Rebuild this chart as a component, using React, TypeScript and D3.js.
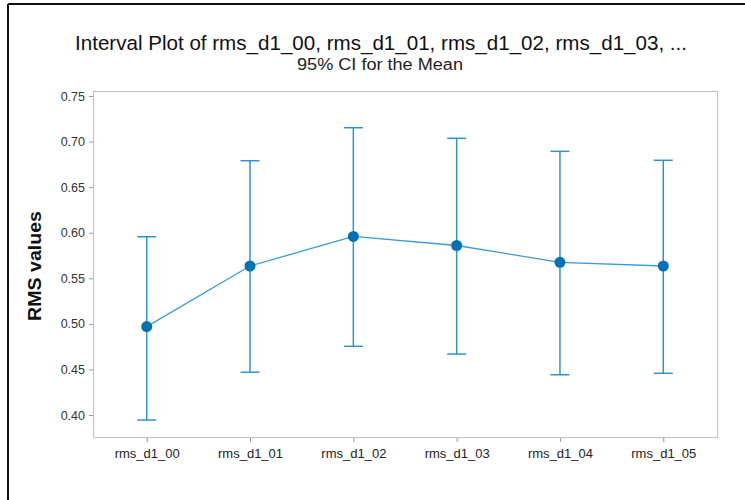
import React, { useEffect, useRef } from "react";
import * as d3 from "d3";

// Interval plot data: group names, means and 95% CI bounds
const categories = ["rms_d1_00", "rms_d1_01", "rms_d1_02", "rms_d1_03", "rms_d1_04", "rms_d1_05"];
const means = [0.497, 0.5635, 0.596, 0.586, 0.5675, 0.5635];
const ciUpper = [0.5956, 0.679, 0.7152, 0.7036, 0.6893, 0.6795];
const ciLower = [0.3945, 0.447, 0.4754, 0.4669, 0.4442, 0.4458];
const yTicks = [0.4, 0.45, 0.5, 0.55, 0.6, 0.65, 0.7, 0.75];

const titleText = "Interval Plot of rms_d1_00, rms_d1_01, rms_d1_02, rms_d1_03, ...";
const subtitleText = "95% CI for the Mean";
const yLabel = "RMS values";

const W = 745;
const H = 500;
const plot = { left: 93, top: 91, right: 717, bottom: 437 };
const FONT = "'Liberation Sans', Arial, sans-serif";

export default function App() {
  const ref = useRef<SVGSVGElement | null>(null);

  useEffect(() => {
    const svg = d3.select(ref.current);
    svg.selectAll("*").remove();

    const x = d3.scalePoint<string>().domain(categories).range([plot.left, plot.right]).padding(0.52);
    const y = d3.scaleLinear().domain([0.3759, 0.7555]).range([plot.bottom, plot.top]);

    svg.append("rect").attr("width", W).attr("height", H).attr("fill", "#fff");

    // outer frame (top and left edges)
    svg.append("line").attr("x1", 8).attr("x2", W).attr("y1", 4).attr("y2", 4)
      .attr("stroke", "#111").attr("stroke-width", 2);
    svg.append("line").attr("x1", 8).attr("x2", 8).attr("y1", 4).attr("y2", H)
      .attr("stroke", "#111").attr("stroke-width", 2);

    // titles
    svg.append("text").attr("x", 381).attr("y", 50).attr("text-anchor", "middle")
      .attr("font-family", FONT).attr("font-size", 20.5).attr("fill", "#111")
      .attr("textLength", 612).attr("lengthAdjust", "spacingAndGlyphs").text(titleText);
    svg.append("text").attr("x", 380).attr("y", 70).attr("text-anchor", "middle")
      .attr("font-family", FONT).attr("font-size", 16).attr("fill", "#222")
      .attr("textLength", 166).attr("lengthAdjust", "spacingAndGlyphs").text(subtitleText);

    // plot frame
    svg.append("rect")
      .attr("x", plot.left + 0.5).attr("y", plot.top + 0.5)
      .attr("width", plot.right - plot.left).attr("height", plot.bottom - plot.top)
      .attr("fill", "none").attr("stroke", "#c4c4c4").attr("stroke-width", 1.2);

    // y axis
    const yAxis = svg.append("g").attr("transform", `translate(${plot.left},0)`)
      .call(d3.axisLeft(y).tickValues(yTicks).tickFormat(d3.format(".2f")).tickSize(4).tickPadding(4));
    yAxis.select(".domain").remove();
    yAxis.selectAll("line").attr("stroke", "#999");
    yAxis.selectAll("text").attr("font-family", FONT).attr("font-size", 12.5).attr("fill", "#333");

    // x axis
    const xAxis = svg.append("g").attr("transform", `translate(0,${plot.bottom + 1})`)
      .call(d3.axisBottom(x).tickSize(4).tickPadding(7));
    xAxis.select(".domain").remove();
    xAxis.selectAll("line").attr("stroke", "#999");
    xAxis.selectAll("text").attr("font-family", FONT).attr("font-size", 13).attr("fill", "#222");

    // y label
    svg.append("text")
      .attr("transform", `translate(41,${(plot.top + plot.bottom) / 2 + 2}) rotate(-90)`)
      .attr("text-anchor", "middle").attr("font-family", FONT).attr("font-size", 18)
      .attr("font-weight", "bold").attr("fill", "#111")
      .attr("textLength", 110).attr("lengthAdjust", "spacingAndGlyphs").text(yLabel);

    const g = svg.append("g");
    const cap = 9.5;
    const barColor = "#2f93c8";

    categories.forEach((c, i) => {
      const cx = x(c)!;
      g.append("line").attr("x1", cx).attr("x2", cx).attr("y1", y(ciUpper[i])).attr("y2", y(ciLower[i]))
        .attr("stroke", barColor).attr("stroke-width", 1.5);
      [ciUpper[i], ciLower[i]].forEach((v) => {
        g.append("line").attr("x1", cx - cap).attr("x2", cx + cap).attr("y1", y(v)).attr("y2", y(v))
          .attr("stroke", barColor).attr("stroke-width", 1.5);
      });
    });

    const line = d3.line<number>().x((_, i) => x(categories[i])!).y((d) => y(d));
    g.append("path").attr("d", line(means)).attr("fill", "none")
      .attr("stroke", "#3b9bd0").attr("stroke-width", 1.3);

    g.selectAll("circle.mean").data(means).join("circle")
      .attr("class", "mean")
      .attr("cx", (_, i) => x(categories[i])!).attr("cy", (d) => y(d))
      .attr("r", 5.5).attr("fill", "#0071b3");
  }, []);

  return (
    <svg ref={ref} width={W} height={H}
      style={{ position: "absolute", left: 0, top: 0, display: "block" }} />
  );
}
